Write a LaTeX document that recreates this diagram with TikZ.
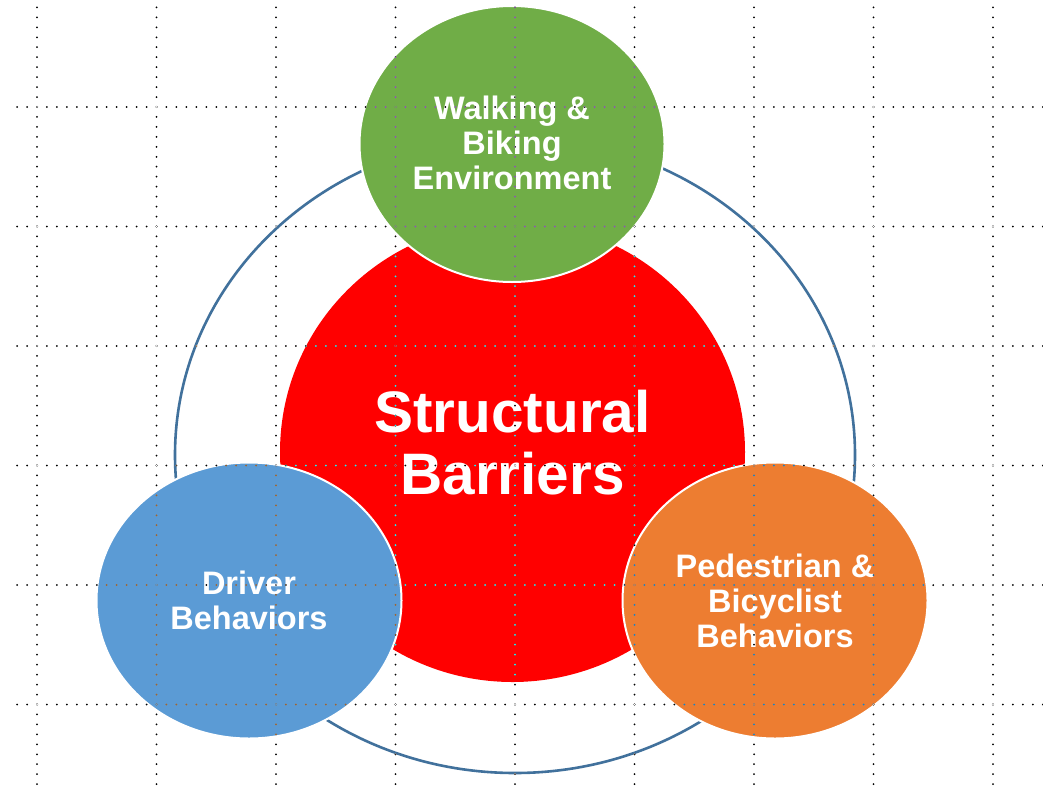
\documentclass[tikz,border=0pt]{standalone}
\usepackage{fontspec}
\setmainfont{Liberation Sans}
\usepackage{tikz}
\usetikzlibrary{shapes.geometric,positioning,calc}

\definecolor{barrierred}{HTML}{FF0000}
\definecolor{envgreen}{HTML}{70AD47}
\definecolor{driverblue}{HTML}{5B9BD5}
\definecolor{pedorange}{HTML}{ED7D31}
\definecolor{ringblue}{HTML}{41719C}

\begin{document}
\begin{tikzpicture}[
        x=1pt, y=-1pt,
        bubble/.style={ellipse, draw=white, line width=2pt, text=white, align=center,
            inner sep=0pt, minimum width=305pt, minimum height=276pt,
            font=\bfseries\fontsize{32.5}{35}\selectfont},
        bigtext/.style={text=white, align=center, inner sep=0pt,
            font=\bfseries\fontsize{58.5}{62}\selectfont},
        gridline/.style={white, line width=2pt, line cap=round,
            dash pattern=on 0pt off 9.958pt}
    ]
        \useasboundingbox (0,0) rectangle (1043,787);
        \fill[white] (0,0) rectangle (1043,787);

        % outer ring and core
        \node[ellipse, draw=ringblue, line width=2.6pt, minimum width=680pt, minimum height=636pt] (ring) at (515,455) {};
        \node[ellipse, fill=barrierred, inner sep=0pt, minimum width=465pt, minimum height=460pt,
            label={[bigtext, name=core, yshift=9pt]center:Structural\\Barriers}] (barrier) at (512.5,452) {};

        % the three factors
        \node[bubble, fill=envgreen, text depth=2pt] (walk) at (512,144) {Walking \&\\Biking\\Environment};
        \node[bubble, fill=driverblue] (driver) at (249,600.5) {Driver\\Behaviors};
        \node[bubble, fill=pedorange] (ped) at (775,600.5) {Pedestrian \&\\Bicyclist\\Behaviors};

        % dotted grid on top
        \begin{scope}[blend mode=difference]
            \foreach \gx in {0,...,8}
                \draw[gridline] ({37+119.5*\gx},7.4) -- ({37+119.5*\gx},787);
            \foreach \gy in {0,...,5}
                \draw[gridline] (17.1,{107+119.5*\gy}) -- (1043,{107+119.5*\gy});
        \end{scope}
    \end{tikzpicture}
\end{document}
